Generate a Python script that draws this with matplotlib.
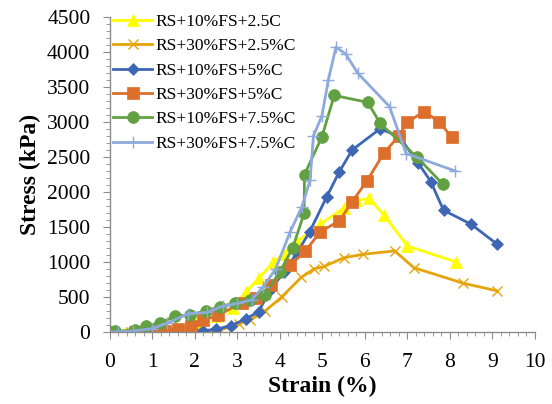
import matplotlib
matplotlib.use("Agg")
import matplotlib.pyplot as plt
from matplotlib.ticker import MultipleLocator

plt.rcParams["font.family"] = ["Liberation Serif", "DejaVu Serif"]

# strain (%) / stress (kPa) per mix
s1_x = [0, 0.35, 1.0, 1.5, 2.05, 2.5, 2.9, 3.2, 3.5, 3.85, 4.1, 4.4, 4.95, 5.5, 5.8, 6.1, 6.45, 7.0, 8.15]
s1_y = [0, -20, -20, 30, 150, 230, 350, 570, 770, 1000, 1120, 1290, 1540, 1770, 1880, 1910, 1670, 1230, 1000]

s2_x = [0, 0.5, 1.0, 1.5, 2.0, 2.6, 3.05, 3.3, 3.65, 4.05, 4.5, 4.8, 5.05, 5.5, 5.95, 6.7, 7.15, 8.3, 9.1]
s2_y = [0, 0, 0, 0, 0, 30, 120, 170, 300, 505, 780, 900, 940, 1060, 1110, 1160, 920, 700, 590]

s3_x = [0, 0.5, 1.0, 1.5, 2.2, 2.5, 2.85, 3.2, 3.5, 3.75, 4.1, 4.4, 4.7, 5.1, 5.4, 5.7, 6.35, 6.8, 7.25, 7.55, 7.85, 8.5, 9.1]
s3_y = [0, 0, 0, 0, 20, 40, 90, 190, 290, 580, 860, 1130, 1430, 1930, 2290, 2600, 2900, 2800, 2420, 2150, 1740, 1540, 1260]

s4_x = [0, 0.6, 1.0, 1.3, 1.6, 1.9, 2.2, 2.55, 3.1, 3.45, 3.8, 4.25, 4.6, 4.95, 5.4, 5.7, 6.05, 6.45, 6.8, 7.0, 7.4, 7.75, 8.05]
s4_y = [0, 0, 5, 20, 40, 90, 170, 240, 420, 480, 670, 960, 1160, 1430, 1590, 1860, 2160, 2560, 2800, 3000, 3150, 3000, 2780]

s5_x = [0, 0.12, 0.6, 0.86, 1.18, 1.53, 1.88, 2.26, 2.6, 2.94, 3.3, 3.64, 4.0, 4.3, 4.57, 4.58, 4.99, 5.28, 6.07, 6.36, 7.22, 7.84]
s5_y = [0, 10, 30, 90, 125, 230, 245, 305, 360, 420, 460, 530, 860, 1200, 1695, 2250, 2790, 3380, 3280, 2980, 2500, 2110]

s6_x = [0, 0.2, 0.55, 1.0, 1.34, 1.85, 2.28, 2.66, 3.0, 3.34, 3.61, 3.9, 4.24, 4.52, 4.71, 4.79, 4.99, 5.14, 5.32, 5.55, 5.83, 6.58, 6.97, 8.13]
s6_y = [0, 5, 15, 50, 125, 265, 280, 370, 410, 460, 650, 900, 1430, 1790, 2170, 2800, 3090, 3600, 4070, 3970, 3700, 3220, 2550, 2300]

labels = ["RS+10%FS+2.5C", "RS+30%FS+2.5%C", "RS+10%FS+5%C",
          "RS+30%FS+5%C", "RS+10%FS+7.5%C", "RS+30%FS+7.5%C"]
series = [(s1_x, s1_y), (s2_x, s2_y), (s3_x, s3_y), (s4_x, s4_y), (s5_x, s5_y), (s6_x, s6_y)]
colors = ["#FFFF00", "#E5A50A", "#3D67B5", "#DD6E2C", "#62A142", "#8EA9DB"]
markers = ["^", "x", "D", "s", "o", "+"]
msizes = [9, 7, 6, 8.5, 8.5, 9]

fig = plt.figure(figsize=(5.52, 4.04), dpi=100)
ax = fig.add_axes([0.199, 0.178, 0.77, 0.78])

for (x, y), lab, c, m, ms in zip(series, labels, colors, markers, msizes):
    ax.plot(x, y, color=c, marker=m, markersize=ms, linewidth=2.0, label=lab,
            markeredgewidth=1.0 if m in "x+" else 0.5)

ax.set_xlim(0, 10)
ax.set_ylim(0, 4500)
ax.xaxis.set_major_locator(MultipleLocator(1))
ax.xaxis.set_minor_locator(MultipleLocator(0.2))
ax.yaxis.set_major_locator(MultipleLocator(500))
ax.yaxis.set_minor_locator(MultipleLocator(100))

for side in ("top", "right"):
    ax.spines[side].set_visible(False)
for side in ("left", "bottom"):
    ax.spines[side].set_color("#8C8C8C")
    ax.spines[side].set_linewidth(1.0)
ax.tick_params(which="both", direction="out", color="#8C8C8C", labelsize=15.5)
ax.tick_params(which="major", length=5)
ax.tick_params(which="minor", length=3)
ax.tick_params(axis="y", pad=9)
ax.tick_params(axis="x", pad=10)

ax.set_xlabel("Strain (%)", fontsize=17, fontweight="bold", labelpad=3)
ax.set_ylabel("Stress (kPa)", fontsize=17, fontweight="bold", labelpad=4)

ax.legend(loc="upper left", bbox_to_anchor=(113 / 552, 1 - 14 / 404),
          bbox_transform=fig.transFigure, frameon=False, fontsize=12.5,
          handlelength=2.25, handletextpad=0.2, labelspacing=0.47,
          borderpad=0, borderaxespad=0)

fig.savefig("out.png", dpi=100, facecolor="white")
